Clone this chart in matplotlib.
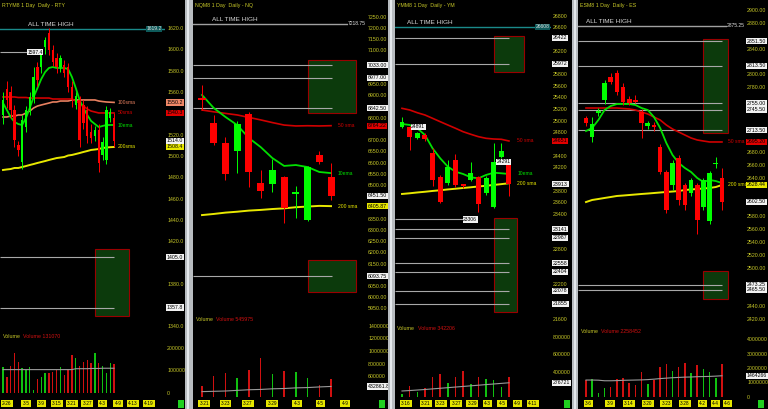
import numpy as np
import matplotlib.pyplot as plt
import matplotlib.transforms as mtransforms
from matplotlib.patches import Rectangle

plt.rcParams['font.family'] = ['Liberation Sans', 'DejaVu Sans']

W, H = 768, 409
AXCOL = '#c8c828'
UP, DN = '#00ff00', '#ff0000'

# ---------------- RTY ----------------
rty_open = [1538, 1563, 1560, 1543, 1510, 1494, 1527, 1543, 1555, 1583, 1583, 1602, 1615, 1599, 1592,
            1583, 1585, 1583, 1565, 1548, 1552, 1548, 1543, 1522, 1519, 1524, 1501, 1496, 1536, 1536]
rty_high = [1560, 1570, 1566, 1548, 1514, 1538, 1547, 1560, 1583, 1588, 1600, 1612, 1620, 1604, 1597,
            1595, 1590, 1587, 1570, 1560, 1556, 1552, 1547, 1530, 1528, 1530, 1518, 1547, 1545, 1540]
rty_low = [1530, 1545, 1536, 1508, 1500, 1488, 1522, 1538, 1550, 1566, 1578, 1596, 1595, 1584, 1578,
           1579, 1574, 1560, 1546, 1544, 1508, 1525, 1512, 1512, 1514, 1485, 1496, 1492, 1532, 1508]
rty_close = [1552, 1552, 1543, 1515, 1506, 1534, 1543, 1555, 1574, 1571, 1597, 1609, 1599, 1588, 1583,
             1592, 1578, 1565, 1552, 1556, 1515, 1531, 1519, 1517, 1524, 1493, 1513, 1543, 1541, 1514.0]
rty_vol = [117000, 72000, 120000, 179000, 139000, 110000, 102000, 117000, 13000, 62000, 72000, 89000,
           89000, 95000, 102000, 117000, 80000, 107000, 169000, 154000, 120000, 139000, 147000, 132000,
           176000, 135000, 120000, 90000, 135000, 131070]
rty_vol_avg = [104000, 104000, 104000, 104000, 104000, 104000, 104000, 104000, 104000, 104000, 104000,
               104000, 104000, 104000, 104000, 104000, 104000, 104000, 104000, 108000, 108000, 108000,
               108000, 109000, 109000, 109000, 110000, 110000, 110000, 110000]
rty_ema10 = [1549.6, 1543.1, 1536.5, 1531.8, 1529.9, 1529.0, 1535.6, 1545.0, 1555.3, 1563.7, 1572.2,
             1578.7, 1582.5, 1583.4, 1582.5, 1582.5, 1582.5, 1581.5, 1574.0, 1563.7, 1552.5, 1545.0,
             1538.4, 1532.8, 1529.9, 1527.1, 1528.1, 1529.0, 1529.0, 1529.0]
rty_sma50 = [1555.3, 1555.3, 1555.3, 1555.3, 1554.8, 1554.8, 1554.8, 1554.3, 1554.3, 1554.3, 1554.3,
             1554.3, 1554.3, 1553.4, 1553.4, 1553.4, 1553.4, 1553.4, 1553.4, 1551.5, 1549.6, 1546.8,
             1544.0, 1542.1, 1541.2, 1540.3, 1540.3, 1540.3, 1540.3, 1540.3]
rty_sma100 = [1536.5, 1536.5, 1537.4, 1537.4, 1538.4, 1538.4, 1540.3, 1542.1, 1545.0, 1546.8, 1547.8,
              1548.7, 1549.6, 1550.6, 1550.6, 1551.5, 1551.5, 1551.5, 1552.5, 1552.5, 1552.5, 1552.5,
              1552.5, 1552.5, 1552.5, 1551.5, 1551.0, 1550.6, 1550.4, 1550.2]
rty_sma200 = [1486.8, 1487.3, 1487.7, 1488.7, 1488.7, 1489.6, 1490.5, 1491.5, 1492.4, 1493.4, 1494.3,
              1495.2, 1496.2, 1497.1, 1498.0, 1498.5, 1499.0, 1500.4, 1500.9, 1501.8, 1502.7, 1503.7,
              1504.6, 1505.6, 1506.0, 1506.5, 1507.4, 1507.9, 1508.2, 1508.4]
rty_ath = 1619.2
rty_levels = [1405.0, 1357.8]
rty_swing = 1597.4
rty_zones = [(24.0, 32.9, 1349.8, 1412.7)]
rty_date_pos = [1, 6, 10, 14, 18, 22, 26, 30, 34, 38]
rty_dates = ['2-26', '3-5', '3-9', '3-15', '3-21', '3-27', '4-3', '4-9', '4-13', '4-19']

# ---------------- NQ ----------------
nq_open = [6887, 6776, 6687, 6651, 6816, 6509, 6504, 6536, 6462, 6344, 6633, 6536]
nq_high = [6945, 6812, 6714, 6785, 6825, 6567, 6616, 6540, 6496, 6585, 6650, 6598]
nq_low = [6834, 6680, 6522, 6553, 6491, 6440, 6470, 6331, 6353, 6340, 6595, 6433]
nq_close = [6879, 6687, 6549, 6772, 6558, 6473, 6567, 6398, 6470, 6580, 6602, 6451.50]
nq_vol = [440000, 600000, 648000, 573000, 696000, 883000, 628000, 685000, 672000, 568000, 450000, 545975]
nq_vol_avg = [350000, 355000, 360000, 370000, 380000, 385000, 395000, 400000, 410000, 415000, 425000, 432861.8]
nq_ema10 = [6901, 6843, 6803, 6767, 6709, 6669, 6620, 6585, 6589, 6580, 6558, 6553]
nq_sma50 = [6834, 6826, 6819, 6812, 6801, 6790, 6778, 6767, 6763, 6764, 6763, 6764.22]
nq_sma200 = [6366, 6371, 6377, 6381, 6386, 6389, 6393, 6396, 6401, 6404, 6407, 6405.87]
nq_ath = 7218.75
nq_levels = [7033.00, 6977.00, 6842.50, 6093.75]
nq_zones = [(9.04, 13.13, 6820.7, 7056.8), (9.04, 13.13, 6023.4, 6166.0)]
nq_date_pos = [0.2, 2.0, 3.9, 6.0, 8.1, 10.1, 12.2]
nq_dates = ['3-21', '3-23', '3-27', '3-29', '4-3', '4-5', '4-9']

# ---------------- YM ----------------
ym_open = [24891, 24891, 24702, 24760, 24445, 24033, 23930, 24325, 23896, 23982, 24033, 23759, 23519, 24376, 24256]
ym_high = [25062, 24900, 24800, 24780, 24530, 24060, 24330, 24420, 23920, 24290, 24050, 24050, 24617, 24617, 24300]
ym_low = [24870, 24497, 24690, 24650, 23880, 23580, 23900, 23870, 23840, 23970, 23433, 23730, 23500, 24360, 23700]
ym_close = [24977, 24720, 24788, 24690, 23982, 23605, 24205, 23896, 23879, 24102, 23570, 24016, 24291, 24479, 23913]
ym_vol = [150000, 245000, 170000, 215000, 347000, 377000, 270000, 339000, 411000, 260000, 340000, 320000,
          308000, 232000, 342206]
ym_vol_avg = [183000, 188000, 194000, 200000, 207000, 214000, 221000, 228000, 235000, 242000, 249000,
              256000, 263000, 270000, 276721]
ym_ema10 = [24943, 24926, 24869, 24754, 24526, 24354, 24210, 24124, 24085, 24028, 24011, 24068, 24107, 24097, 24085]
ym_sma50 = [25211, 25183, 25136, 25097, 25040, 24982, 24925, 24869, 24810, 24766, 24725, 24697, 24685, 24680, 24651]
ym_sma200 = [23742, 23754, 23768, 23780, 23794, 23806, 23820, 23832, 23845, 23857, 23871, 23883, 23897, 23911, 23926]
ym_ath = 26608
ym_levels = [26422, 25972, 23141, 22987, 22558, 22404, 22078, 21855]
ym_swing = 23306
ym_marks = [(1.2, 24891), (12.4, 24291)]
ym_zones = [(12.0, 16.0, 25834, 26452), (12.0, 15.05, 21715, 23327)]
ym_date_pos = [0.5, 3.1, 5.1, 7.1, 9.2, 11.2, 13.1, 15.1, 17.1]
ym_dates = ['3-16', '3-21', '3-23', '3-27', '3-29', '4-3', '4-5', '4-9', '4-11']

# ---------------- ES ----------------
es_open = [2732, 2703, 2740, 2760, 2796, 2802, 2781, 2762, 2760, 2742, 2720, 2722, 2687, 2649, 2628, 2670,
           2628, 2616, 2628, 2594, 2573, 2661, 2639]
es_high = [2736, 2734, 2748, 2791, 2802, 2807, 2786, 2766, 2768, 2746, 2728, 2726, 2692, 2652, 2667, 2675,
           2632, 2640, 2632, 2640, 2650, 2672, 2655]
es_low = [2720, 2695, 2736, 2754, 2785, 2768, 2752, 2752, 2756, 2701, 2716, 2712, 2645, 2585, 2620, 2597,
          2590, 2612, 2553, 2590, 2568, 2655, 2590]
es_close = [2725, 2723, 2743, 2787, 2788, 2773, 2757, 2756, 2757, 2725, 2725, 2719, 2649, 2590, 2663, 2605,
            2597, 2636, 2574, 2636, 2647, 2663, 2602.50]
es_vol = [1170000, 1220000, 260000, 640000, 710000, 1220000, 1290000, 990000, 830000, 1740000, 870000,
          1170000, 2090000, 2250000, 1810000, 2090000, 2370000, 1680000, 2210000, 1910000, 1740000,
          1290000, 2258452]
es_vol_avg = [1170000, 1170000, 1160000, 1120000, 1120000, 1130000, 1150000, 1160000, 1170000, 1180000,
              1200000, 1230000, 1270000, 1300000, 1330000, 1350000, 1370000, 1380000, 1400000, 1410000,
              1420000, 1440000, 1464266]
es_ema10 = [2712.2, 2716.9, 2729.3, 2744.8, 2751.0, 2754.1, 2754.1, 2754.1, 2752.6, 2747.9, 2744.8, 2733.9,
            2716.9, 2693.6, 2675.0, 2662.6, 2654.8, 2648.6, 2639.3, 2633.1, 2636.2, 2634.6, 2631.5]
es_sma50 = [2747.9, 2747.9, 2747.9, 2747.9, 2747.9, 2747.9, 2747.1, 2746.4, 2744.8, 2741.7, 2738.6, 2733.9,
            2729.3, 2721.5, 2715.3, 2710.7, 2706.0, 2701.4, 2698.3, 2696.7, 2695.2, 2695.2, 2695.2]
es_sma200 = [2602.0, 2605.2, 2606.7, 2608.3, 2609.8, 2611.4, 2612.1, 2612.9, 2613.7, 2614.5, 2615.2, 2616.0,
             2616.8, 2617.6, 2618.3, 2619.1, 2620.7, 2621.5, 2622.2, 2623.0, 2623.8, 2625.3, 2628.44]
es_ath = 2875.25
es_levels = [2851.50, 2813.50, 2755.00, 2745.50, 2713.50, 2473.25, 2465.50]
es_zones = [(18.9, 23.0, 2708.7, 2855.0), (18.9, 23.0, 2452.0, 2495.0)]
es_date_pos = [0.4, 3.9, 6.9, 10.0, 13.0, 16.0, 18.9, 20.9, 22.9]
es_dates = ['3-6', '3-9', '3-14', '3-20', '3-23', '3-28', '4-2', '4-4', '4-6']

fig = plt.figure(figsize=(W / 100, H / 100), dpi=100, facecolor='black')


def px_axes(l, t, r, b):
    ax = fig.add_axes([l / W, 1 - b / H, (r - l) / W, (b - t) / H], facecolor='black')
    for s in ax.spines.values():
        s.set_visible(False)
    return ax


def right_box(ax, v, txt, fc, tc='black'):
    tr = mtransforms.blended_transform_factory(ax.transAxes, ax.transData)
    tr = mtransforms.offset_copy(tr, fig=fig, x=2, y=0, units='dots')
    ax.text(1.0, v, txt, transform=tr, fontsize=3.8, color=tc, va='center', ha='left', zorder=20,
            bbox=dict(boxstyle='square,pad=0.12', fc=fc, ec='none'), clip_on=False)


def free_ticks(ticks, boxes, k, gap=5.5):
    # ticks hidden behind a value box are left out
    return [t for t in ticks if all(abs(t - b) * k > gap for b in boxes)]


def panel(title, o, h, l, c, vol, vavg, mas, ath, ath_col, levels, lev_end, zones, dpos, dates,
          lay, fmt, pticks, vticks, vlabel, vfmt=None, swing=None, marks=()):
    left, right, split, c0, step = lay['x']
    yref, pref, k = lay['price']
    vy, vv, vk = lay['vol']
    xlim = ((left - c0) / step, (right - c0) / step)

    ax = px_axes(left, 0, right, split)
    ax.set_xlim(*xlim)
    ax.set_ylim(pref - (split - yref) / k, pref + yref / k)
    ax.set_xticks([])
    ax.yaxis.tick_right()
    boxes = list(levels) + [c[-1]] + [m[0][-1] for m in mas if m[4]]
    ticks = free_ticks(pticks, boxes, k)
    ax.set_yticks(ticks)
    ax.set_yticklabels([fmt.format(t) for t in ticks])
    ax.tick_params(axis='y', length=0, pad=1.5, labelsize=3.8, labelcolor=AXCOL)

    x = np.arange(len(o))
    o, h, l, c = map(np.asarray, (o, h, l, c))
    cols = np.where(c >= o, UP, DN)
    body = np.maximum(np.abs(c - o), 1.5 / k)
    ax.vlines(x, l, h, colors=cols, lw=0.7, zorder=4)
    ax.bar(x, body, lay['bw'], bottom=np.minimum(o, c), color=cols, lw=0, zorder=5)

    for z0, z1, p0, p1 in zones:
        ax.add_patch(Rectangle((z0, p0), z1 - z0, p1 - p0, fc='#0c3a0c', ec='#9a0000', lw=0.8, zorder=1))
    for lv in levels:
        ax.hlines(lv, xlim[0], lev_end, color='#a8a8a8', lw=0.8, zorder=2)
        right_box(ax, lv, fmt.format(lv), '#f2f2f2')

    ax.axhline(ath, color=ath_col, lw=1.0, zorder=2)
    tr = mtransforms.blended_transform_factory(ax.transAxes, ax.transData)
    ax.annotate('ALL TIME HIGH', xy=(lay['ath_txt'], ath), xycoords=tr, xytext=(0, 1.5),
                textcoords='offset points', fontsize=4.6, color='#d8d8d8', va='bottom', ha='left')
    ax.text(lay['ath_box'], ath, fmt.format(ath), transform=tr, fontsize=3.6, color='#e0e0e0', va='center',
            ha='right', zorder=21, bbox=dict(boxstyle='square,pad=0.12', fc=lay['ath_fc'], ec='none'))

    for vals, col, lab, lw, box in mas:
        ax.plot(x, vals, color=col, lw=lw, zorder=3)
        if lab:
            ax.annotate(lab, xy=(x[-1], vals[-1]), xytext=(lay['lab_off'], 0), textcoords='offset points',
                        fontsize=3.6, color=col, va='center', ha='left', zorder=6)
        if box:
            right_box(ax, vals[-1], fmt.format(vals[-1]), box)
    right_box(ax, c[-1], fmt.format(c[-1]), '#f2f2f2')

    if swing is not None:
        sv, s0 = swing
        ax.hlines(sv, xlim[0], s0, color='#a8a8a8', lw=0.8, zorder=2)
        ax.text(s0, sv, fmt.format(sv), fontsize=3.6, color='black', va='center', ha='left', zorder=21,
                bbox=dict(boxstyle='square,pad=0.12', fc='#f2f2f2', ec='none'))
    for mx, mv in marks:
        ax.text(mx, mv, fmt.format(mv), fontsize=3.6, color='black', va='center', ha='left', zorder=21,
                bbox=dict(boxstyle='square,pad=0.12', fc='#f2f2f2', ec='none'))

    fig.text((left + 2) / W, 1 - 5 / H, title, fontsize=3.8, color=AXCOL, va='center', ha='left')

    # volume
    av = px_axes(left, split, right, 397)
    av.set_xlim(*xlim)
    av.set_ylim(vv - (397 - vy) / vk, vv + (vy - split) / vk)
    av.yaxis.tick_right()
    vboxes = [vavg[-1]] if vfmt else []
    vt = free_ticks(vticks, vboxes, vk)
    av.set_yticks(vt)
    av.set_yticklabels(['{:.0f}'.format(t) for t in vt])
    av.tick_params(axis='y', length=0, pad=1.5, labelsize=3.8, labelcolor=AXCOL)
    av.bar(x, vol, lay['vw'], color=np.where(c >= o, '#10c010', '#d01010'), lw=0, zorder=3)
    av.plot(x, vavg, color='#9a9a9a', lw=0.8, zorder=4)
    if vfmt:
        right_box(av, vavg[-1], vfmt.format(vavg[-1]), '#f2f2f2')
    av.text(0.015, 0.93, 'Volume', transform=av.transAxes, fontsize=3.8, color=AXCOL, va='top')
    av.annotate('Volume ' + vlabel, xy=(0.015, 0.93), xycoords='axes fraction', xytext=(15, 0),
                textcoords='offset points', fontsize=3.8, color='#d01010', va='top')
    av.set_xticks(dpos)
    av.set_xticklabels(dates)
    av.tick_params(axis='x', length=0, pad=3, labelsize=3.4, labelcolor='black')
    for t in av.get_xticklabels():
        t.set_bbox(dict(boxstyle='square,pad=0.25', fc='#e6e600', ec='none'))
    fig.patches.append(Rectangle(((right + 13) / W, 1 - 408 / H), 6 / W, 8 / H, transform=fig.transFigure,
                                 fc='#20d020', ec='none'))


panel('RTYM8 1 Day  Daily - RTY', rty_open, rty_high, rty_low, rty_close, rty_vol, rty_vol_avg,
      [(rty_sma200, '#e8e800', '200sma', 1.4, '#e8e800'), (rty_sma100, '#e88060', '100sma', 1.2, '#f08868'),
       (rty_sma50, '#d00000', '50sma', 1.2, '#e00000'), (rty_ema10, '#00e000', '10ema', 1.3, None)],
      rty_ath, '#1a8a8a', rty_levels, 29, rty_zones, rty_date_pos, rty_dates,
      dict(x=(0, 165, 329, 3, 3.83), price=(28, 1620, 1.066), vol=(393, 0, 2.25e-4), bw=0.62, vw=0.35,
           ath_txt=0.17, ath_box=0.98, ath_fc='#0e5a5a', lab_off=2.5),
      '{:.1f}', np.arange(1340, 1621, 20), [0, 100000, 200000], '131070', swing=(rty_swing, 6.3))

panel('NQM8 1 Day  Daily - NQ', nq_open, nq_high, nq_low, nq_close, nq_vol, nq_vol_avg,
      [(nq_sma200, '#e8e800', '200 sma', 1.4, '#e8e800'), (nq_sma50, '#d00000', '50 sma', 1.2, '#e00000'),
       (nq_ema10, '#00e000', '10ema', 1.3, None)],
      nq_ath, '#a0a0a0', nq_levels, 11.1, nq_zones, nq_date_pos, nq_dates,
      dict(x=(193, 366, 311, 202, 11.73), price=(185, 6500, 0.2245), vol=(376, 600000, 6.25e-5), bw=0.6,
           vw=0.12, ath_txt=0.11, ath_box=1.0, ath_fc='black', lab_off=5),
      '{:.2f}', np.arange(5950, 7251, 50), [600000, 800000, 1000000, 1200000, 1400000], '545975',
      vfmt='{:.1f}')

panel('YMM8 1 Day  Daily - YM', ym_open, ym_high, ym_low, ym_close, ym_vol, ym_vol_avg,
      [(ym_sma200, '#e8e800', '200 sma', 1.4, None), (ym_sma50, '#d00000', '50 sma', 1.2, '#e00000'),
       (ym_ema10, '#00e000', '10ema', 1.3, None)],
      ym_ath, '#1a8a8a', ym_levels, 14.0, ym_zones, ym_date_pos, ym_dates,
      dict(x=(395, 551, 321, 402, 7.64), price=(15.7, 26800, 0.0583), vol=(407, 0, 8.75e-5), bw=0.65,
           vw=0.2, ath_txt=0.08, ath_box=0.99, ath_fc='#0e5a5a', lab_off=6),
      '{:.0f}', np.arange(21600, 26801, 200), [400000, 600000, 800000], '342206', vfmt='{:.0f}',
      swing=(ym_swing, 8.0), marks=ym_marks)

panel('ESM8 1 Day  Daily - ES', es_open, es_high, es_low, es_close, es_vol, es_vol_avg,
      [(es_sma200, '#e8e800', '200 sma', 1.4, '#e8e800'), (es_sma50, '#d00000', '50 sma', 1.2, '#e00000'),
       (es_ema10, '#00e000', None, 1.3, None)],
      es_ath, '#a0a0a0', es_levels, 22.0, es_zones, es_date_pos, es_dates,
      dict(x=(578, 745, 324, 586, 6.18), price=(10, 2900, 0.6444), vol=(397, 0, 1.45e-5), bw=0.75,
           vw=0.25, ath_txt=0.05, ath_box=1.0, ath_fc='black', lab_off=4),
      '{:.2f}', np.arange(2420, 2901, 20), [0, 1000000, 2000000, 3000000, 4000000], '2258452',
      vfmt='{:.0f}')

# panel separators
for x0, x1 in [(185, 193), (388, 395), (572, 578)]:
    fig.patches.append(Rectangle((x0 / W, 0), (x1 - x0) / W, 1, transform=fig.transFigure,
                                 fc='#b8bcc0', ec='none', zorder=30))
    fig.patches.append(Rectangle(((x0 + 2) / W, 0), 2 / W, 1, transform=fig.transFigure,
                                 fc='#e4e8ec', ec='none', zorder=31))

fig.savefig('out.png', dpi=100, facecolor='black')
